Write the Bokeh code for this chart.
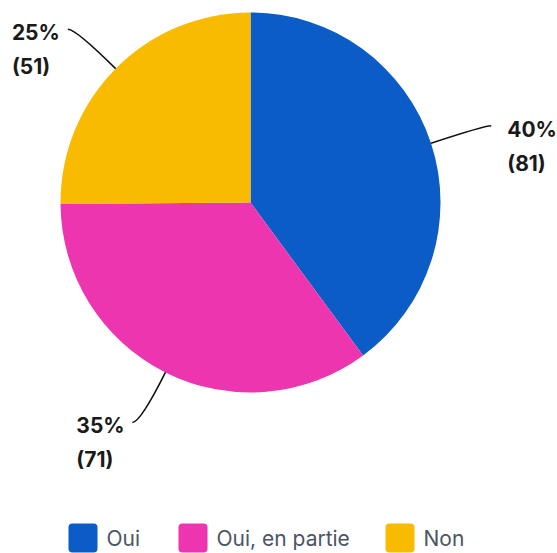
import math
from bokeh.plotting import figure
from bokeh.models import Range1d
from bokeh.core.properties import value
from bokeh.embed import file_html
from bokeh.resources import INLINE

# ---- data ----
categories = ["Oui", "Oui, en partie", "Non"]
counts = [81, 71, 51]
colors = ["#0B5CC6", "#EC35AF", "#F9BB00"]

# ---- layout ----
W, H = 557, 553
CX, CY = 250, H - 202   # pie centre (data units == pixels)
R = 190
EXT = 56
FONT = "Inter"

p = figure(width=W, height=H, output_backend="svg", toolbar_location=None,
           x_range=Range1d(0, W), y_range=Range1d(0, H),
           min_border=0, outline_line_color=None)
p.axis.visible = False
p.grid.visible = False
p.background_fill_color = "white"
p.border_fill_color = "white"

total = sum(counts)
start = math.pi / 2
xs0, ys0, cxs, cys, xs1, ys1 = [], [], [], [], [], []
for cat, cnt, col in zip(categories, counts, colors):
    sweep = 2 * math.pi * cnt / total
    end = start - sweep
    p.wedge(x=[CX], y=[CY], radius=R, start_angle=end, end_angle=start,
            fill_color=col, line_color=None)
    mid = (start + end) / 2
    sx = CX + R * math.cos(mid)
    sy = CY + R * math.sin(mid)
    kx = CX + (R + EXT) * math.cos(mid)
    ky = CY + (R + EXT) * math.sin(mid)
    right = math.cos(mid) >= 0
    ex = kx + (7 if right else -8)
    xs0.append(sx); ys0.append(sy); cxs.append(kx); cys.append(ky)
    xs1.append(ex); ys1.append(ky)
    pct = f"{round(100 * cnt / total)}%"
    tx = ex + 16 if right else ex - 56
    p.text(x=[tx], y=[ky - 3.5], text=[pct], text_align="left",
           text_baseline="middle", text_font=value(FONT),
           text_font_style="bold", text_font_size="21px", text_color="#1a1a1a")
    p.text(x=[tx], y=[ky - 37.5], text=[f"({cnt})"], text_align="left",
           text_baseline="middle", text_font=value(FONT),
           text_font_style="bold", text_font_size="21px", text_color="#1a1a1a")
    start = end

p.quadratic(x0=xs0, y0=ys0, x1=xs1, y1=ys1, cx=cxs, cy=cys,
            line_color="#111111", line_width=1.6)

# ---- legend ----
leg_x = [68, 178, 385]
leg_y = H - 537.5
sq = 29
for lx, cat, col in zip(leg_x, categories, colors):
    p.quad(left=[lx], right=[lx + sq], bottom=[leg_y - sq / 2], top=[leg_y + sq / 2],
           fill_color=col, line_color=None, border_radius=4)
    p.text(x=[lx + sq + 9], y=[leg_y], text=[cat], text_align="left",
           text_baseline="middle", text_font=value(FONT),
           text_font_size="21px", text_color="#4b5563")

open("out.html", "w").write(file_html(p, INLINE))
